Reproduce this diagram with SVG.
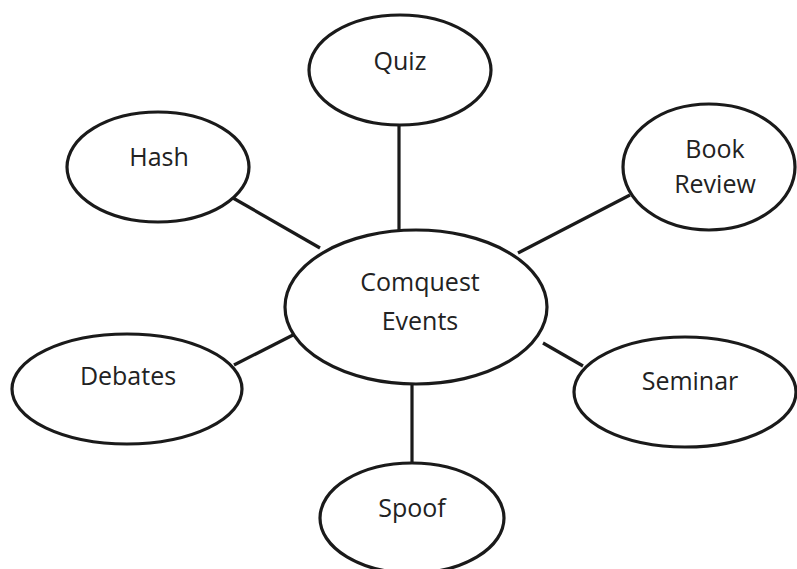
<svg xmlns="http://www.w3.org/2000/svg" width="797" height="569" viewBox="0 0 797 569">
<style>
.n ellipse{fill:#fff;stroke:#1a1a1a;stroke-width:3.2}
.n text{font-family:"Open Sans","DejaVu Sans",sans-serif;font-size:25px;fill:#222;text-anchor:middle}
#edges line{stroke:#1a1a1a;stroke-width:3.2}
</style>
<rect width="797" height="569" fill="#fff"/>
<g id="edges">
<line x1="399" y1="125" x2="399" y2="231"/>
<line x1="233" y1="198" x2="320" y2="248"/>
<line x1="630" y1="195" x2="518" y2="253"/>
<line x1="234" y1="365" x2="293" y2="335"/>
<line x1="543" y1="343" x2="583" y2="366"/>
<line x1="412" y1="383" x2="412" y2="463"/>
</g>
<g id="center" class="n"><ellipse cx="416" cy="307" rx="131" ry="77"/><text x="420" y="291">Comquest</text><text x="420" y="330">Events</text></g>
<g id="quiz" class="n"><ellipse cx="400" cy="70" rx="91" ry="55"/><text x="400" y="70">Quiz</text></g>
<g id="hash" class="n"><ellipse cx="158" cy="167" rx="91" ry="55"/><text x="159" y="166">Hash</text></g>
<g id="bookreview" class="n"><ellipse cx="709" cy="167" rx="86" ry="63"/><text x="715" y="158">Book</text><text x="715" y="193">Review</text></g>
<g id="debates" class="n"><ellipse cx="127" cy="389" rx="115" ry="55"/><text x="128" y="385">Debates</text></g>
<g id="seminar" class="n"><ellipse cx="685" cy="392" rx="111" ry="55"/><text x="690" y="390">Seminar</text></g>
<g id="spoof" class="n"><ellipse cx="412" cy="518" rx="92" ry="55"/><text x="412" y="517">Spoof</text></g>
</svg>
